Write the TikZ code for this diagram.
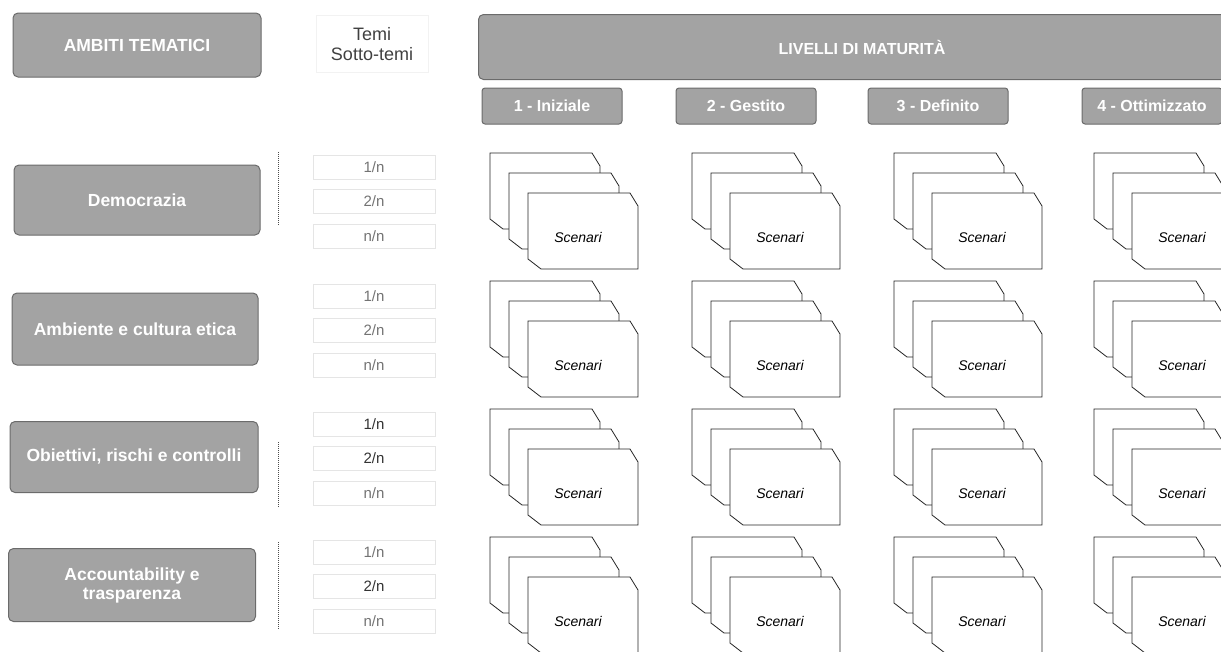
\documentclass[tikz,border=0pt]{standalone}
\usepackage{fontspec}
\setmainfont{Liberation Sans}

\tikzset{
  graybox/.style={draw=black!58,fill=black!36,rounded corners=5pt,line width=1pt,inner sep=2pt,align=center,text=white,font=\bfseries\fontsize{17.5}{19}\selectfont},
  levelbox/.style={graybox,minimum width=140,minimum height=36,rounded corners=3pt,font=\bfseries\fontsize{16}{18}\selectfont},
  subbox/.style={draw=black!10,line width=.6pt,minimum width=122,minimum height=24,inner sep=0pt,text=black!55,font=\fontsize{15}{17}\selectfont},
  card/.style={draw=black!85,fill=white,line width=.8pt},
  scentext/.style={inner sep=0pt,font=\itshape\fontsize{14}{16}\selectfont}
}

% one stack of three scenario cards, #1,#2 = top left of the back card
\newcommand{\scenstack}[3]{%
  \draw[card] (#1,#2) -- ++(102,0) -- ++(8,13) -- ++(0,63) -- ++(-97,0) -- ++(-13,-10) -- cycle;
  \draw[card] (#1+19,#2+20) -- ++(102,0) -- ++(8,13) -- ++(0,63) -- ++(-97,0) -- ++(-13,-10) -- cycle;
  \draw[card] (#1+38,#2+40) -- ++(102,0) -- ++(8,13) -- ++(0,63) -- ++(-97,0) -- ++(-13,-10) -- cycle;
  \node[scentext] (#3) at (#1+88,#2+84) {Scenari};
}

\begin{document}
\begin{tikzpicture}[x=1pt,y=-1pt]
\path[use as bounding box] (0,0) rectangle (1221,651);
\begin{scope}
\clip (0,0) rectangle (1221,651);

% headers
\node[graybox,minimum width=248,minimum height=64] (ambiti) at (137,45) {AMBITI TEMATICI};
\node[draw=black!5,minimum width=112,minimum height=57,align=center,text=black!75,font=\fontsize{18}{20}\selectfont] (temi) at (372,44) {Temi\\Sotto-temi};
\node[graybox,minimum width=760,minimum height=65,anchor=west] (livelli) at (478,47) {};
\node[text=white,font=\bfseries\fontsize{16}{18}\selectfont] (livtxt) at (862,47) {LIVELLI DI MATURITÀ};
\node[levelbox] (lv1) at (552,106) {1 - Iniziale};
\node[levelbox] (lv2) at (746,106) {2 - Gestito};
\node[levelbox] (lv3) at (938,106) {3 - Definito};
\node[levelbox] (lv4) at (1152,106) {4 - Ottimizzato};

% ambiti tematici
\node[graybox,minimum width=246,minimum height=70] (democrazia) at (137,200) {Democrazia};
\node[graybox,minimum width=246,minimum height=72] (ambiente) at (135,329) {Ambiente e cultura etica};
\node[graybox,minimum width=248,minimum height=71] (obiettivi) at (134,457) {Obiettivi, rischi e controlli};
\node[graybox,minimum width=247,minimum height=73] (accountability) at (132,585) {Accountability e\\trasparenza};

% temi / sotto-temi
\node[subbox] (dem1) at (374,167) {1/n};
\node[subbox] (dem2) at (374,201) {2/n};
\node[subbox] (demn) at (374,236) {n/n};
\node[subbox] (amb1) at (374,296) {1/n};
\node[subbox] (amb2) at (374,330) {2/n};
\node[subbox] (ambn) at (374,365) {n/n};
\node[subbox,text=black!80] (obi1) at (374,424) {1/n};
\node[subbox,text=black!80] (obi2) at (374,458) {2/n};
\node[subbox] (obin) at (374,493) {n/n};
\node[subbox] (acc1) at (374,552) {1/n};
\node[subbox,text=black!80] (acc2) at (374,586) {2/n};
\node[subbox] (accn) at (374,621) {n/n};

\draw[black!70,densely dotted,line width=1pt] (278,152)--(278,225) (278,442)--(278,507) (278,542)--(278,630);

% scenari
\scenstack{490}{153}{sc11} \scenstack{692}{153}{sc12} \scenstack{894}{153}{sc13} \scenstack{1094}{153}{sc14}
\scenstack{490}{281}{sc21} \scenstack{692}{281}{sc22} \scenstack{894}{281}{sc23} \scenstack{1094}{281}{sc24}
\scenstack{490}{409}{sc31} \scenstack{692}{409}{sc32} \scenstack{894}{409}{sc33} \scenstack{1094}{409}{sc34}
\scenstack{490}{537}{sc41} \scenstack{692}{537}{sc42} \scenstack{894}{537}{sc43} \scenstack{1094}{537}{sc44}

\end{scope}
\end{tikzpicture}
\end{document}
